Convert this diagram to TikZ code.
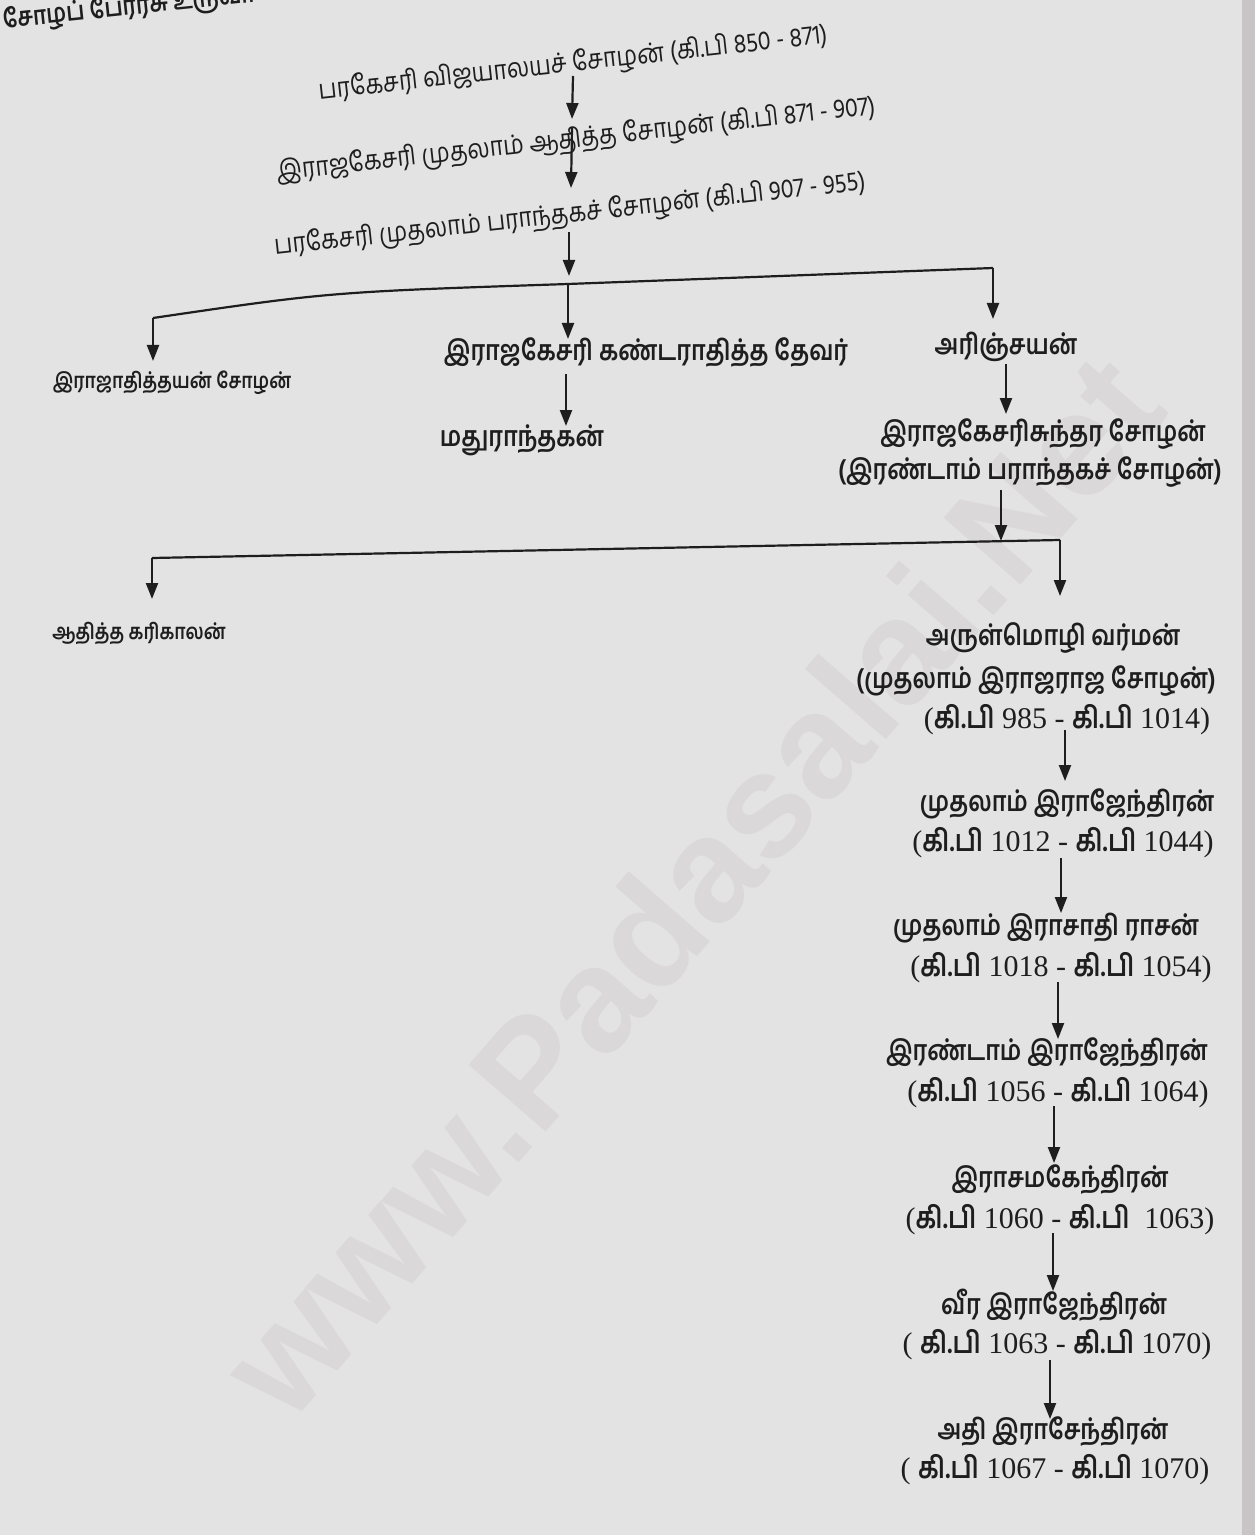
\documentclass[tikz,border=0pt]{standalone}
\usepackage{fontspec}
\setmainfont{Liberation Serif}
\newfontfamily\tam[Script=Tamil,FakeStretch=0.84]{Hind Madurai}
\newfontfamily\tamt[Script=Tamil,FakeStretch=0.86]{Hind Madurai}
\newfontfamily\lat{Liberation Serif}
\newfontfamily\wmfont{Liberation Sans}
\usetikzlibrary{arrows.meta}
\definecolor{paper}{HTML}{E4E3E3}
\definecolor{pageedge}{HTML}{C9C4C5}
\definecolor{ink}{HTML}{1E1E1E}
\definecolor{wmark}{HTML}{DAD8D8}
\newcommand\kp{{\tam\bfseries கி.பி}}
\newcommand\dates[3]{{\lat #1}\kp{\lat\ #2 - }\kp{\lat\ #3)}}
\tikzset{
  arr/.style={draw=ink, line width=1.1pt, -{Triangle[length=8pt,width=6pt]}},
  ln/.style={draw=ink, line width=1.1pt},
  tilt/.style={text=ink, inner sep=0pt, rotate=6.3, font=\tamt\fontsize{13.5}{15}\selectfont},
  nm/.style={text=ink, inner sep=0pt, font=\tam\bfseries\fontsize{14}{16}\selectfont},
  small/.style={text=ink, inner sep=0pt, font=\tam\bfseries\fontsize{10.8}{13}\selectfont},
  dt/.style={text=ink, inner sep=0pt, font=\lat\fontsize{15}{17}\selectfont},
}
\begin{document}
\begin{tikzpicture}[x=0.5pt, y=-0.5pt]
\useasboundingbox (0,0) rectangle (1255,1535);
\fill[paper] (0,0) rectangle (1255,1535);
\fill[pageedge] (1242,0) rectangle (1255,1535);
% watermark
\node[rotate=49, text=wmark, font=\wmfont\bfseries\fontsize{74}{74}\selectfont] (wm) at (690,885) {www.Padasalai.Net};
% header (cut off)
\node[rotate=6, text=ink, anchor=west, font=\tam\bfseries\fontsize{13}{14}\selectfont] (hdr) at (-4,22) {சோழப் பேரரசு உருவா};
% top tilted rows
\node[tilt] (r1) at (573,64) {பரகேசரி விஜயாலயச் சோழன் (கி.பி 850 - 871)};
\node[tilt] (r2) at (576,140) {இராஜகேசரி முதலாம் ஆதித்த சோழன் (கி.பி 871 - 907)};
\node[tilt] (r3) at (570,215) {பரகேசரி முதலாம் பராந்தகச் சோழன் (கி.பி 907 - 955)};
\coordinate (a1s) at (573,76); \coordinate (a1e) at (572,119);
\coordinate (a2s) at (572,128); \coordinate (a2e) at (571,188);
\coordinate (a3s) at (569,232); \coordinate (a3e) at (569,276);
\draw[arr] (a1s) -- (a1e);
\draw[arr] (a2s) -- (a2e);
\draw[arr] (a3s) -- (a3e);
% first branch
\coordinate (bL) at (153,318);
\coordinate (bM) at (568,284);
\coordinate (bR) at (993,268);
\coordinate (bLe) at (153,361);
\coordinate (bMe) at (568,339);
\coordinate (bRe) at (993,319);
\draw[ln] (bL) .. controls (330,292) .. (bM) -- (bR);
\draw[arr] (bL) -- (bLe);
\draw[arr] (bM) -- (bMe);
\draw[arr] (bR) -- (bRe);
\node[small] (rajadit) at (172,383) {இராஜாதித்தயன் சோழன்};
\node[nm] (kandar) at (646,352) {இராஜகேசரி கண்டராதித்த தேவர்};
\node[nm] (arinj) at (1006,347) {அரிஞ்சயன்};
\coordinate (k1) at (566,374); \coordinate (k2) at (566,426);
\draw[arr] (k1) -- (k2);
\node[nm] (madhu) at (522,440) {மதுராந்தகன்};
\coordinate (ar1) at (1006,364); \coordinate (ar2) at (1006,414);
\draw[arr] (ar1) -- (ar2);
\node[nm] (sundA) at (1043,434) {இராஜகேசரிசுந்தர சோழன்};
\node[nm] (sundB) at (1030,472) {(இரண்டாம் பராந்தகச் சோழன்)};
% second branch
\coordinate (s1) at (1001,490); \coordinate (s2) at (1001,541);
\draw[arr] (s1) -- (s2);
\coordinate (cL) at (152,558);
\coordinate (cR) at (1060,540);
\coordinate (cLe) at (152,599);
\coordinate (cRe) at (1060,596);
\draw[ln] (cL) -- (cR);
\draw[arr] (cL) -- (cLe);
\draw[arr] (cR) -- (cRe);
\node[small] (karik) at (139,633) {ஆதித்த கரிகாலன்};
% right column
\node[nm] (n1a) at (1053,638) {அருள்மொழி வர்மன்};
\node[nm] (n1b) at (1036,681) {(முதலாம் இராஜராஜ சோழன்)};
\node[dt] (n1c) at (1067,720) {\dates{(}{985}{1014}};
\node[nm] (n2a) at (1067,804) {முதலாம் இராஜேந்திரன்};
\node[dt] (n2b) at (1063,843) {\dates{(}{1012}{1044}};
\node[nm] (n3a) at (1046,928) {முதலாம் இராசாதி ராசன்};
\node[dt] (n3b) at (1061,968) {\dates{(}{1018}{1054}};
\node[nm] (n4a) at (1047,1053) {இரண்டாம் இராஜேந்திரன்};
\node[dt] (n4b) at (1058,1093) {\dates{(}{1056}{1064}};
\node[nm] (n5a) at (1060,1180) {இராசமகேந்திரன்};
\node[dt] (n5b) at (1060,1220) {\dates{(}{1060}{\ 1063}};
\node[nm] (n6a) at (1054,1305) {வீர இராஜேந்திரன்};
\node[dt] (n6b) at (1057,1345) {\dates{(\ }{1063}{1070}};
\node[nm] (n7a) at (1053,1432) {அதி இராசேந்திரன்};
\node[dt] (n7b) at (1055,1470) {\dates{(\ }{1067}{1070}};
\coordinate (d1) at (1065,730); \coordinate (d1e) at (1065,781);
\coordinate (d2) at (1061,858); \coordinate (d2e) at (1061,913);
\coordinate (d3) at (1058,982); \coordinate (d3e) at (1058,1039);
\coordinate (d4) at (1054,1106); \coordinate (d4e) at (1054,1163);
\coordinate (d5) at (1053,1233); \coordinate (d5e) at (1053,1291);
\coordinate (d6) at (1050,1360); \coordinate (d6e) at (1050,1419);
\draw[arr] (d1) -- (d1e);
\draw[arr] (d2) -- (d2e);
\draw[arr] (d3) -- (d3e);
\draw[arr] (d4) -- (d4e);
\draw[arr] (d5) -- (d5e);
\draw[arr] (d6) -- (d6e);
\end{tikzpicture}
\end{document}
